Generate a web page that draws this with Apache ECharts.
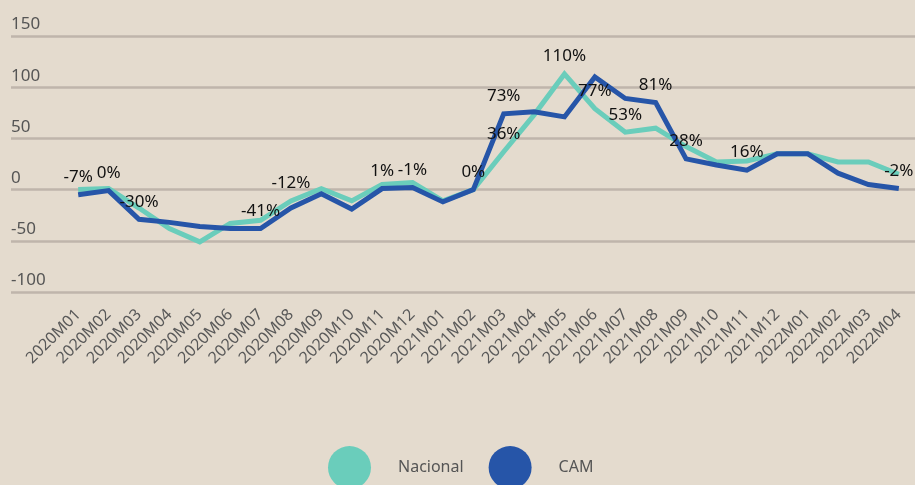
<!DOCTYPE html>
<html>
<head>
<meta charset="utf-8">
<script src="https://cdn.jsdelivr.net/npm/echarts@6/dist/echarts.min.js"></script>
<style>
	html, body { margin: 0; padding: 0; background: #e4dbce; }
	#chart { width: 915px; height: 485px; }
</style>
</head>
<body>
<div id="chart"></div>
<script>
// categorias (meses)
var meses = ['2020M01','2020M02','2020M03','2020M04','2020M05','2020M06','2020M07','2020M08','2020M09','2020M10',
	'2020M11','2020M12','2021M01','2021M02','2021M03','2021M04','2021M05','2021M06','2021M07','2021M08',
	'2021M09','2021M10','2021M11','2021M12','2022M01','2022M02','2022M03','2022M04'];

var nacional = [0, 1, -18, -38, -51, -33, -30, -11, 1, -11, 5, 7, -11, 0, 37, 73, 113, 79, 56, 60, 42, 27, 28, 35, 35, 27, 27, 15];
var cam = [-5, -1, -29, -32, -36, -38, -38, -18, -4, -19, 1, 2, -12, 0, 74, 76, 71, 110, 89, 85, 30, 24, 19, 35, 35, 16, 5, 1];

// etiquetas de datos
var etiqNacional = ['', '', '', '', '', '', '', '-12%', '', '', '', '', '', '', '36%', '', '110%', '77%', '53%', '', '', '', '', '', '', '', '', ''];
var etiqCam = ['-7%', '0%', '-30%', '', '', '', '-41%', '', '', '', '1%', '-1%', '', '0%', '73%', '', '', '', '', '81%', '28%', '', '16%', '', '', '', '', '-2%'];

var yTicks = [-100, -50, 0, 50, 100, 150];

var chart = echarts.init(document.getElementById('chart'));
var fuente = 'Noto Sans';

var etiqueta = function(lista) {
	return {
		show: true,
		position: 'top',
		distance: 9,
		color: '#111',
		fontFamily: fuente,
		fontSize: 17,
		formatter: function(p) { return lista[p.dataIndex]; }
	};
};

var option = {
	backgroundColor: '#e4dbce',
	animation: false,
	grid: [
		{ left: 63, right: 1, top: 36, bottom: 193 },
		{ left: 11, right: 0, top: 36, bottom: 193 }
	],
	legend: {
		data: ['Nacional', 'CAM'],
		icon: 'circle',
		itemWidth: 43,
		itemHeight: 43,
		itemGap: 25,
		left: 323,
		top: 441,
		textStyle: { color: '#555', fontFamily: fuente, fontSize: 16, padding: [0, 0, 0, 22] }
	},
	xAxis: [
		{
			type: 'category',
			gridIndex: 0,
			data: meses,
			boundaryGap: true,
			axisLine: { show: false },
			axisTick: { show: false },
			axisLabel: { rotate: 45, margin: 20, color: '#595959', fontFamily: fuente, fontSize: 16, interval: 0 }
		},
		{ type: 'category', gridIndex: 1, data: meses, show: false }
	],
	yAxis: [
		{ type: 'value', gridIndex: 0, min: -100, max: 150, interval: 50, show: false },
		{
			type: 'value',
			gridIndex: 1,
			min: yTicks[0],
			max: yTicks[yTicks.length - 1],
			interval: 50,
			axisLine: { show: false },
			axisTick: { show: false },
			splitLine: { lineStyle: { color: '#bfb5ab', width: 2.5 } },
			axisLabel: {
				inside: true,
				margin: 0,
				verticalAlign: 'bottom',
				padding: [0, 0, 3, 0],
				color: '#555',
				fontFamily: fuente,
				fontSize: 17
			}
		}
	],
	series: [
		{
			name: 'Nacional',
			type: 'line',
			xAxisIndex: 0,
			yAxisIndex: 0,
			data: nacional,
			symbol: 'circle',
			symbolSize: 0,
			showSymbol: true,
			color: '#6acdbb',
			lineStyle: { width: 5, color: '#6acdbb', join: 'miter' },
			label: etiqueta(etiqNacional),
			z: 2
		},
		{
			name: 'CAM',
			type: 'line',
			xAxisIndex: 0,
			yAxisIndex: 0,
			data: cam,
			symbol: 'circle',
			symbolSize: 0,
			showSymbol: true,
			color: '#2655a8',
			lineStyle: { width: 5, color: '#2655a8', join: 'miter' },
			label: etiqueta(etiqCam),
			z: 2
		}
	]
};
chart.setOption(option);
</script>
</body>
</html>
